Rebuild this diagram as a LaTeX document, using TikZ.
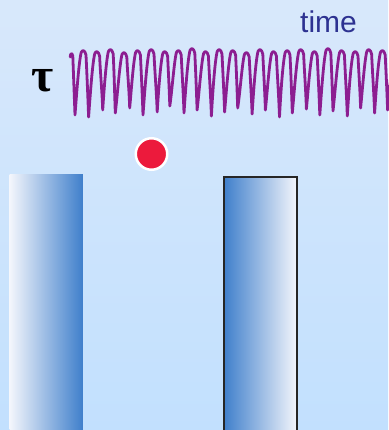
\documentclass[tikz,border=0pt]{standalone}
\usepackage{fontspec}
\setmainfont{Liberation Sans}
\newfontfamily\taufont{Liberation Serif}
\definecolor{bgtop}{RGB}{216,232,251}
\definecolor{bgbot}{RGB}{194,224,254}
\definecolor{barblue}{RGB}{63,127,203}
\definecolor{barpale}{RGB}{244,246,252}
\definecolor{dotred}{RGB}{236,26,60}
\definecolor{tracepurple}{RGB}{140,30,145}
\definecolor{timeblue}{RGB}{45,50,145}
\begin{document}
\begin{tikzpicture}[x=1pt,y=-1pt,
  pillar/.style={draw=none, inner sep=0pt, anchor=north west},
  trace/.style={draw=tracepurple, line width=2.8pt, line cap=round, line join=round},
]
\useasboundingbox (0,0) rectangle (388,430);
% sky-blue backdrop
\shade[top color=bgtop, bottom color=bgbot] (0,0) rectangle (388,430);

% spike train: charge bending over into a small cap, near-vertical reset
\draw[trace] (70.2,57) .. controls (70.4,53) and (72,52.5) .. (72.8,56) -- (75,115)
  \foreach \i/\t/\bn/\dx [evaluate=\i as \x using 75+13.6*\i] in
   {0/51/117/0, 1/52/110/0.5, 2/50/113/-0.5, 3/53/108/0.3, 4/51/115/0, 5/50/112/0.6,
    6/52/106/-0.4, 7/51/113/0.2, 8/49/110/-0.3, 9/52/116/0.4, 10/50/112/0, 11/51/108/-0.5,
    12/53/114/0.3, 13/50/110/0, 14/52/117/0.5, 15/51/113/-0.3, 16/50/109/0.2, 17/52/115/0,
    18/49/111/-0.4, 19/51/116/0.3, 20/52/108/0, 21/50/113/0.4, 22/51/110/-0.2, 23/50/114/0}
  { .. controls (\x+1.8,\t+40) and (\x+4,\t+10) .. (\x+6.2,\t+1.5)
    .. controls (\x+7.4,\t-1.5) and (\x+9.8,\t-1) .. (\x+11,\t+4)
    .. controls (\x+12,\t+25) and (\x+12.9+\dx,\bn-20) .. (\x+13.6+\dx,\bn) };

\node[text=timeblue, font=\fontsize{30}{30}\selectfont, anchor=base west, inner sep=0pt]
  (timelabel) at (300,33) {time};
\node[font=\taufont\bfseries\fontsize{48}{48}\selectfont, anchor=base, inner sep=0pt]
  (tau) at (43,92) {τ};

\node[circle, fill=dotred, draw=white, line width=2.5pt, minimum size=31.5pt, inner sep=0pt]
  (ball) at (151.5,154) {};

\node[pillar, minimum width=73.4pt, minimum height=257pt,
      left color=barpale, right color=barblue] (pillarL) at (9.3,174) {};
\node[pillar, draw=black!85, line width=2pt, minimum width=73.6pt, minimum height=254pt,
      left color=barblue, right color=barpale] (pillarR) at (222.7,176) {};
\end{tikzpicture}
\end{document}
